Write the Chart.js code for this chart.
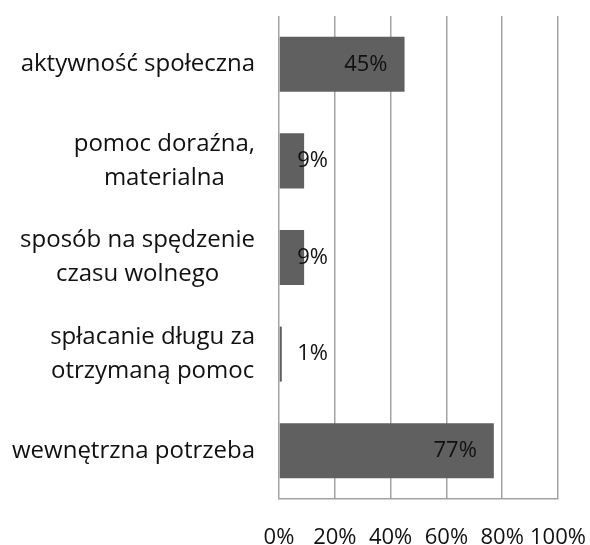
<!DOCTYPE html>
<html>
<head>
<meta charset="utf-8">
<style>
  html, body { margin: 0; padding: 0; background: #fff; }
  #wrap { width: 590px; height: 545px; }
</style>
<script src="https://cdn.jsdelivr.net/npm/chart.js@4/dist/chart.umd.min.js"></script>
</head>
<body>
<div id="wrap"><canvas id="chart" width="590" height="545"></canvas></div>
<script>
// category labels (already split into lines as in the original)
const categories = [
  ['aktywność społeczna'],
  ['pomoc doraźna,', 'materialna'],
  ['sposób na spędzenie', 'czasu wolnego'],
  ['spłacanie długu za', 'otrzymaną pomoc'],
  ['wewnętrzna potrzeba']
];
const values = [45, 9, 9, 1, 77];
const xTicks = [0, 20, 40, 60, 80, 100];

const FONT = '"Open Sans", sans-serif';
const barColor = '#5f605f';
const gridColor = '#a3a3a3';

// left labels: each block centered on itself, block right-aligned
const catLabels = {
  id: 'catLabels',
  afterDraw(chart) {
    const { ctx, scales: { y } } = chart;
    const right = 255, lh = 34;
    ctx.save();
    ctx.font = '24px ' + FONT;
    ctx.fillStyle = '#111';
    ctx.textAlign = 'center';
    ctx.textBaseline = 'middle';
    categories.forEach((lines, i) => {
      const w = Math.max(...lines.map(l => ctx.measureText(l).width));
      const cx = right - w / 2;
      const cy = y.getPixelForValue(i);
      const top = cy - (lines.length - 1) * lh / 2;
      lines.forEach((l, j) => ctx.fillText(l, cx, top + j * lh));
    });
    ctx.restore();
  }
};

// value labels near the bar end (pushed out for very short bars)
const valueLabels = {
  id: 'valueLabels',
  afterDatasetsDraw(chart) {
    const { ctx, scales: { x } } = chart;
    const meta = chart.getDatasetMeta(0);
    const base = x.getPixelForValue(0);
    ctx.save();
    ctx.font = '22px ' + FONT;
    ctx.fillStyle = '#111';
    ctx.textAlign = 'right';
    ctx.textBaseline = 'middle';
    meta.data.forEach((bar, i) => {
      const xr = Math.max(bar.x - 17, base + 49);
      ctx.fillText(values[i] + '%', xr, bar.y);
    });
    ctx.restore();
  }
};

new Chart(document.getElementById('chart'), {
  type: 'bar',
  data: {
    labels: categories.map(c => c.join(' ')),
    datasets: [{
      data: values,
      backgroundColor: barColor,
      borderWidth: 0,
      categoryPercentage: 1,
      barPercentage: 0.57
    }]
  },
  options: {
    indexAxis: 'y',
    responsive: false,
    devicePixelRatio: 1,
    animation: false,
    layout: { padding: { top: 16, right: 32, bottom: 0, left: 0 } },
    plugins: {
      legend: { display: false },
      tooltip: { enabled: false }
    },
    scales: {
      x: {
        min: 0,
        max: 100,
        afterBuildTicks: s => { s.ticks = xTicks.map(v => ({ value: v })); },
        afterFit: s => { s.height = 46; s.paddingLeft = 0; s.paddingRight = 0; },
        grid: { color: gridColor, lineWidth: 1.5, drawTicks: false },
        border: { display: true, color: gridColor, width: 1.5 },
        ticks: {
          color: '#111',
          font: { family: FONT, size: 22 },
          padding: 26,
          maxRotation: 0,
          autoSkip: false,
          callback: v => v + '%'
        }
      },
      y: {
        afterFit: s => { s.width = 279; },
        grid: { display: false },
        border: { display: false },
        ticks: { display: false }
      }
    }
  },
  plugins: [catLabels, valueLabels]
});
</script>
</body>
</html>
